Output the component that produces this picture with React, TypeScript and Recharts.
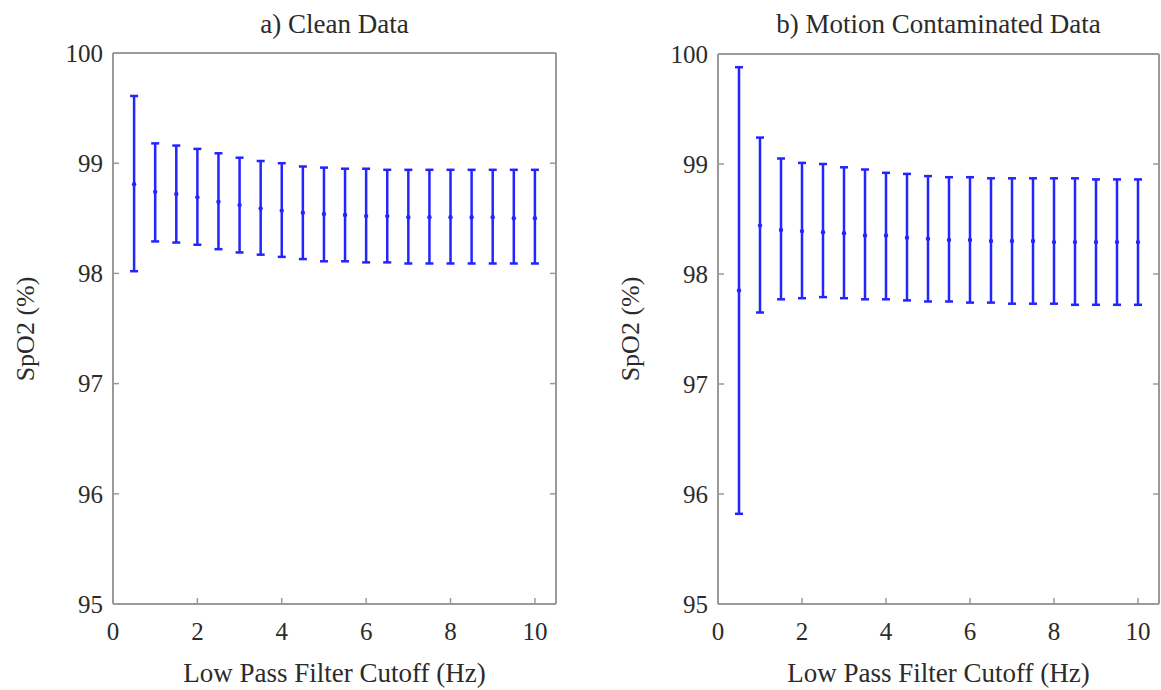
import React from "react";
import { ErrorBar, Scatter, ScatterChart, XAxis, YAxis } from "recharts";

const cutoffs = [0.5, 1, 1.5, 2, 2.5, 3, 3.5, 4, 4.5, 5, 5.5, 6, 6.5, 7, 7.5, 8, 8.5, 9, 9.5, 10];

const cleanMean = [98.81, 98.74, 98.72, 98.69, 98.65, 98.62, 98.59, 98.57, 98.55, 98.54, 98.53, 98.52, 98.52, 98.51, 98.51, 98.51, 98.51, 98.51, 98.5, 98.5];
const cleanLow = [98.02, 98.29, 98.28, 98.26, 98.22, 98.19, 98.17, 98.15, 98.13, 98.11, 98.11, 98.1, 98.1, 98.09, 98.09, 98.09, 98.09, 98.09, 98.09, 98.09];
const cleanHigh = [99.61, 99.18, 99.16, 99.13, 99.09, 99.05, 99.02, 99.0, 98.97, 98.96, 98.95, 98.95, 98.94, 98.94, 98.94, 98.94, 98.94, 98.94, 98.94, 98.94];

const motionMean = [97.85, 98.44, 98.4, 98.39, 98.38, 98.37, 98.35, 98.35, 98.33, 98.32, 98.31, 98.31, 98.3, 98.3, 98.3, 98.29, 98.29, 98.29, 98.29, 98.29];
const motionLow = [95.82, 97.65, 97.77, 97.78, 97.79, 97.78, 97.77, 97.77, 97.76, 97.75, 97.75, 97.74, 97.74, 97.73, 97.73, 97.73, 97.72, 97.72, 97.72, 97.72];
const motionHigh = [99.88, 99.24, 99.05, 99.01, 99.0, 98.97, 98.95, 98.92, 98.91, 98.89, 98.88, 98.88, 98.87, 98.87, 98.87, 98.87, 98.87, 98.86, 98.86, 98.86];

const xTicks = [0, 2, 4, 6, 8, 10];
const yTicks = [95, 96, 97, 98, 99, 100];

const AXIS = "#9a9a9a";
const BLUE = "#2424ff";
const TEXT = "#2b2b2b";
const FONT = '"Liberation Serif", "Times New Roman", Times, "Noto Serif", "DejaVu Serif", serif';
const TICK_LEN = 6;

function build(mean: number[], low: number[], high: number[]) {
  return cutoffs.map((x, i) => ({
    x,
    mean: mean[i],
    err: [mean[i] - low[i], high[i] - mean[i]],
  }));
}

function Dot(p: any) {
  return <circle cx={p.cx} cy={p.cy} r={2.2} fill={BLUE} />;
}

// ticks point inward, so draw the tick line ourselves
const BOTTOM_GAP = 18;
function BottomTick(p: any) {
  const { x, y, payload } = p;
  return (
    <g>
      <line x1={x} x2={x} y1={y - BOTTOM_GAP} y2={y - BOTTOM_GAP - TICK_LEN} stroke={AXIS} strokeWidth={1.5} />
      <text x={x} y={y} dy="0.71em" textAnchor="middle" fill={TEXT} fontFamily={FONT} fontSize={25}>
        {payload.value}
      </text>
    </g>
  );
}

const LEFT_GAP = 10;
function LeftTick(p: any) {
  const { x, y, payload } = p;
  return (
    <g>
      <line x1={x + LEFT_GAP} x2={x + LEFT_GAP + TICK_LEN} y1={y} y2={y} stroke={AXIS} strokeWidth={1.5} />
      <text x={x} y={y} dy="0.35em" textAnchor="end" fill={TEXT} fontFamily={FONT} fontSize={25}>
        {payload.value}
      </text>
    </g>
  );
}

function TopTick(p: any) {
  const { x, y } = p;
  return <line x1={x} x2={x} y1={y} y2={y + TICK_LEN} stroke={AXIS} strokeWidth={1.5} />;
}

function RightTick(p: any) {
  const { x, y } = p;
  return <line x1={x} x2={x - TICK_LEN} y1={y} y2={y} stroke={AXIS} strokeWidth={1.5} />;
}

function Panel({
  data,
  width,
  left,
  right,
  top,
}: {
  data: ReturnType<typeof build>;
  width: number;
  left: number;
  right: number;
  top: number;
}) {
  return (
    <ScatterChart width={width} height={690} margin={{ top, right, bottom: 0, left: 0 }}>
      <XAxis
        dataKey="x"
        type="number"
        domain={[0, 10.5]}
        ticks={xTicks}
        allowDataOverflow
        height={86}
        axisLine={{ stroke: AXIS, strokeWidth: 2 }}
        tickLine={false}
        tickSize={0}
        tickMargin={BOTTOM_GAP}
        tick={<BottomTick />}
        interval={0}
      />
      <XAxis
        xAxisId="top"
        orientation="top"
        type="number"
        domain={[0, 10.5]}
        ticks={xTicks}
        allowDataOverflow
        height={1}
        axisLine={{ stroke: AXIS, strokeWidth: 2 }}
        tickLine={false}
        tickSize={0}
        tickMargin={0}
        tick={<TopTick />}
        interval={0}
      />
      <YAxis
        dataKey="mean"
        type="number"
        domain={[95, 100]}
        ticks={yTicks}
        allowDataOverflow
        width={left}
        axisLine={{ stroke: AXIS, strokeWidth: 2 }}
        tickLine={false}
        tickSize={0}
        tickMargin={LEFT_GAP}
        tick={<LeftTick />}
        interval={0}
      />
      <YAxis
        yAxisId="r"
        orientation="right"
        type="number"
        domain={[95, 100]}
        ticks={yTicks}
        allowDataOverflow
        width={1}
        axisLine={{ stroke: AXIS, strokeWidth: 2 }}
        tickLine={false}
        tickSize={0}
        tickMargin={0}
        tick={<RightTick />}
        interval={0}
      />
      <Scatter data={data} dataKey="mean" shape={Dot} isAnimationActive={false}>
        <ErrorBar dataKey="err" direction="y" width={4} stroke={BLUE} strokeWidth={2.5} isAnimationActive={false} />
      </Scatter>
    </ScatterChart>
  );
}

const titles = ["a) Clean Data", "b) Motion Contaminated Data"];
const xLabel = "Low Pass Filter Cutoff (Hz)";
const yLabel = "SpO2 (%)";

export default function App() {
  const clean = build(cleanMean, cleanLow, cleanHigh);
  const motion = build(motionMean, motionLow, motionHigh);
  const centers = [334.5, 938.5];
  const yLabelX = [25, 630];
  return (
    <div
      style={{
        position: "absolute",
        left: 0,
        top: 0,
        width: 1161,
        height: 690,
        background: "#fff",
        fontFamily: FONT,
      }}
    >
      <div style={{ display: "flex" }}>
        <Panel data={clean} width={580} left={113} right={23} top={52} />
        <Panel data={motion} width={581} left={138} right={1} top={53} />
      </div>
      <svg width={1161} height={690} style={{ position: "absolute", left: 0, top: 0, pointerEvents: "none" }}>
        {centers.map((cx, i) => (
          <g key={i}>
            <text x={cx} y={33} textAnchor="middle" fontFamily={FONT} fontSize={27} fill={TEXT}>
              {titles[i]}
            </text>
            <text x={cx} y={682} textAnchor="middle" fontFamily={FONT} fontSize={27} fill={TEXT}>
              {xLabel}
            </text>
            <text
              x={yLabelX[i]}
              y={329}
              dy="0.35em"
              textAnchor="middle"
              transform={`rotate(-90, ${yLabelX[i]}, 329)`}
              fontFamily={FONT}
              fontSize={26}
              fill={TEXT}
            >
              {yLabel}
            </text>
          </g>
        ))}
      </svg>
    </div>
  );
}
